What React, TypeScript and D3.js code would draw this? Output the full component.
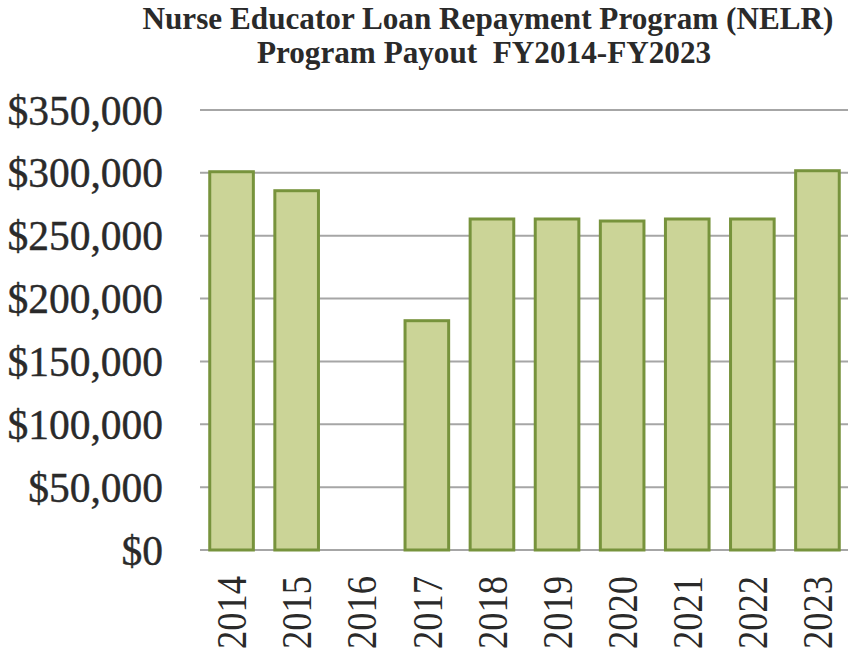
import React from "react";
import * as d3 from "d3";

const years = ["2014", "2015", "2016", "2017", "2018", "2019", "2020", "2021", "2022", "2023"];
const payouts = [300900, 285800, 0, 182400, 263300, 263300, 261700, 263300, 263300, 301700];
const yTicks = [0, 50000, 100000, 150000, 200000, 250000, 300000, 350000];
const titleLines = ["Nurse Educator Loan Repayment Program (NELR)", "Program Payout  FY2014-FY2023"];

const W = 848;
const H = 654;

export default function App() {
  const x = d3.scaleBand<string>().domain(years).range([199, 850]).paddingInner(0.33).paddingOuter(0.165);
  const y = d3.scaleLinear().domain([0, 350000]).range([550, 110]);
  const fmt = (v: number) => "$" + d3.format(",")(v);
  const font = "'Liberation Serif', 'Times New Roman', serif";
  return (
    <svg width={W} height={H} style={{ position: "absolute", left: 0, top: 0, background: "#fff" }}>
      <g fontFamily={font} fontWeight="bold" fill="#2a2a2a" textAnchor="middle" style={{ whiteSpace: "pre" }}>
        <text x={488} y={29} fontSize={31.2} xmlSpace="preserve">{titleLines[0]}</text>
        <text x={484} y={63} fontSize={31.2} xmlSpace="preserve">{titleLines[1]}</text>
      </g>
      {yTicks.map((t) => (
        <g key={t}>
          <line x1={200} x2={848} y1={y(t)} y2={y(t)} stroke="#a6a6a6" strokeWidth={2} />
          <text x={163} y={y(t)} dy="0.35em" textAnchor="end" fontFamily={font} fontSize={41.5} fill="#2a2a2a"
            stroke="#2a2a2a" strokeWidth={0.4}>
            {fmt(t)}
          </text>
        </g>
      ))}
      {years.map((yr, i) =>
        payouts[i] > 0 ? (
          <rect
            key={yr}
            x={x(yr)!}
            y={y(payouts[i])}
            width={x.bandwidth()}
            height={y(0) - y(payouts[i])}
            fill="#cbd497"
            stroke="#77933c"
            strokeWidth={3}
          />
        ) : null
      )}
      {years.map((yr) => {
        const cx = x(yr)! + x.bandwidth() / 2;
        return (
          <text
            key={yr}
            transform={`translate(${cx},${576}) rotate(-90)`}
            dy="0.35em"
            textAnchor="end"
            fontFamily={font}
            fontSize={42}
            textLength={73}
            lengthAdjust="spacingAndGlyphs"
            fill="#2a2a2a"
          >
            {yr}
          </text>
        );
      })}
    </svg>
  );
}
